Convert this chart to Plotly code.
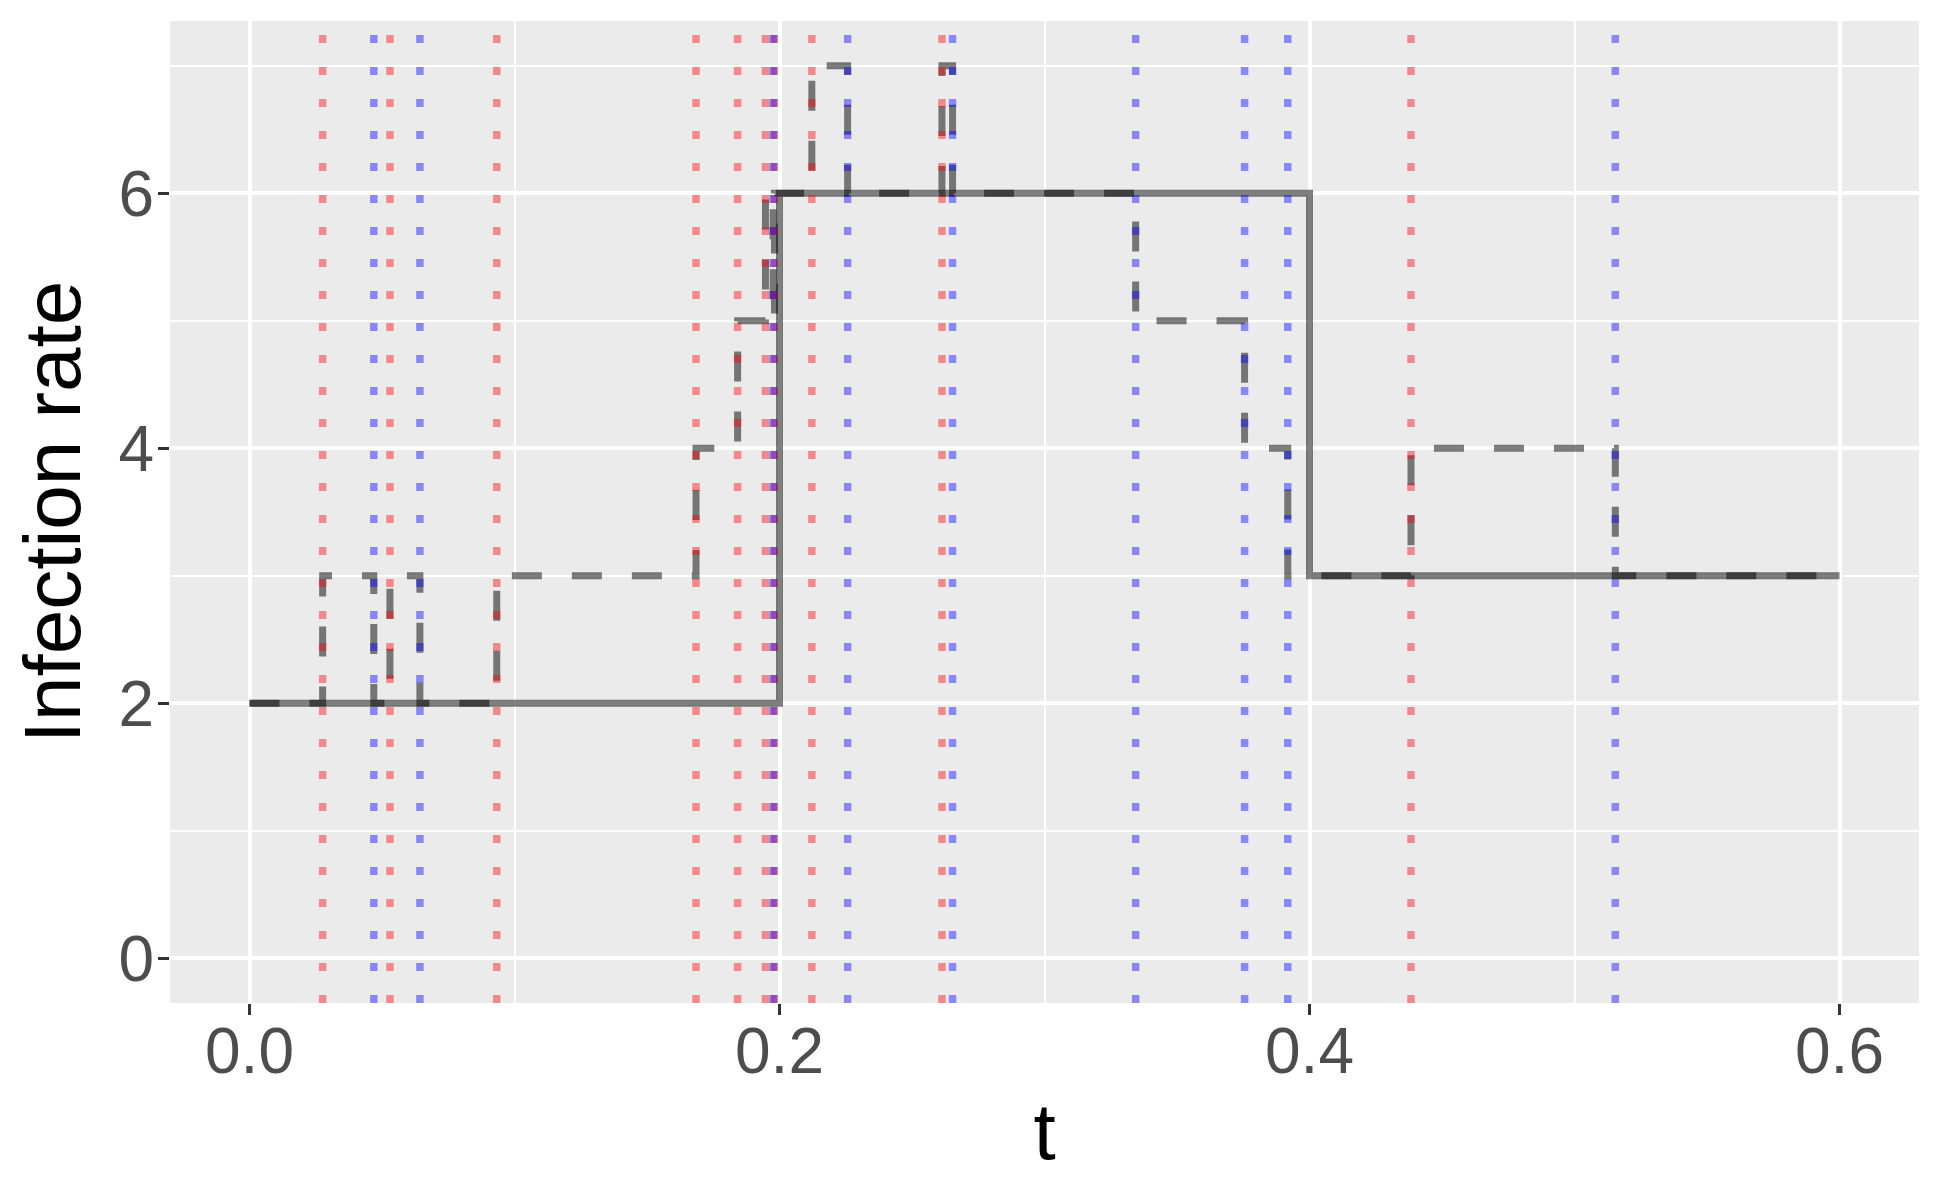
import plotly.graph_objects as go

# true infection rate (step function)
true_t = [0.0, 0.2, 0.4, 0.6]
true_rate = [2, 6, 3, 3]

# estimated infection rate (step function)
est_t = [0.0, 0.0276, 0.0469, 0.0530, 0.0643, 0.0933, 0.1685, 0.1842, 0.1947,
         0.1976, 0.1981, 0.2122, 0.2257, 0.2613, 0.2653, 0.3344, 0.3755, 0.3918,
         0.4383, 0.5154, 0.6]
est_rate = [2, 3, 2, 3, 2, 3, 4, 5, 6, 5, 6, 7, 6, 7, 6, 5, 4, 3, 4, 3, 3]

# event times
red_times = [0.0276, 0.0530, 0.0933, 0.1685, 0.1842, 0.1947, 0.1981, 0.2122,
             0.2613, 0.4383]
blue_times = [0.0469, 0.0643, 0.1976, 0.2257, 0.2653, 0.3344, 0.3755, 0.3918,
              0.5154]

x_ticks = [0.0, 0.2, 0.4, 0.6]
y_ticks = [0, 2, 4, 6]

FONT = "Liberation Sans, Arial, sans-serif"

fig = go.Figure()

fig.add_trace(go.Scatter(
    x=true_t, y=true_rate, mode="lines", line_shape="hv",
    line=dict(color="rgba(0,0,0,0.5)", width=7),
    showlegend=False, hoverinfo="skip",
))
fig.add_trace(go.Scatter(
    x=est_t, y=est_rate, mode="lines", line_shape="hv",
    line=dict(color="rgba(0,0,0,0.5)", width=7, dash="30px,30px"),
    showlegend=False, hoverinfo="skip",
))

# dotted vertical event lines
for t in red_times:
    fig.add_shape(type="line", xref="x", yref="y domain", x0=t, x1=t, y0=0, y1=1,
                  line=dict(color="rgba(255,0,0,0.42)", width=7.5, dash="8px,24px"))
for t in blue_times:
    fig.add_shape(type="line", xref="x", yref="y domain", x0=t, x1=t, y0=0, y1=1,
                  line=dict(color="rgba(0,0,255,0.42)", width=7.5, dash="8px,24px"))

fig.update_layout(
    width=1941, height=1200,
    margin=dict(l=170, r=22, t=21, b=197),
    paper_bgcolor="white",
    plot_bgcolor="#EBEBEB",
    font=dict(family=FONT),
    showlegend=False,
)

fig.update_xaxes(
    range=[-0.03, 0.63], automargin=False,
    tickvals=x_ticks, ticktext=[f"{v:.1f}" for v in x_ticks],
    tickfont=dict(size=64, color="#4D4D4D"),
    ticks="outside", ticklen=11, tickwidth=3, tickcolor="#333333",
    ticklabelstandoff=-19,
    showgrid=True, gridcolor="white", gridwidth=4,
    minor=dict(dtick=0.1, tick0=0, showgrid=True, gridcolor="white", gridwidth=2),
    zeroline=False, showline=False,
    title=dict(text="t", font=dict(size=80, color="black"), standoff=17),
)
fig.update_yaxes(
    range=[-0.35, 7.35], automargin=False,
    tickvals=y_ticks, ticktext=[str(v) for v in y_ticks],
    tickfont=dict(size=64, color="#4D4D4D"),
    ticks="outside", ticklen=11, tickwidth=3, tickcolor="#333333",
    ticklabelstandoff=-9,
    showgrid=True, gridcolor="white", gridwidth=4,
    minor=dict(dtick=1, tick0=1, showgrid=True, gridcolor="white", gridwidth=2),
    zeroline=False, showline=False,
    title=dict(text="Infection rate", font=dict(size=80, color="black"), standoff=11),
)

fig.write_html("out.html", config={"displayModeBar": False},
               post_script="document.body.style.margin='0';")
